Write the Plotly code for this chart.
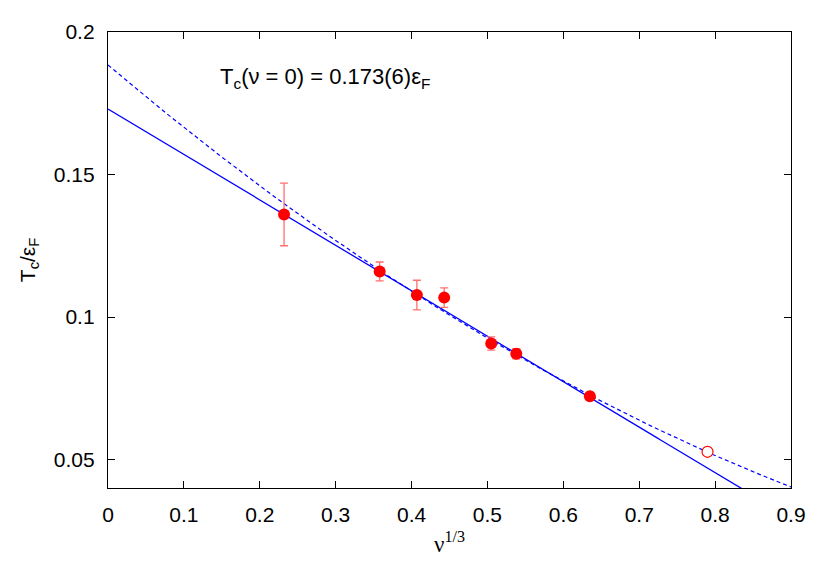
import numpy as np
import plotly.graph_objects as go

# measured points
nu13 = [0.232, 0.358, 0.407, 0.443, 0.505, 0.538, 0.635]
tc = [0.136, 0.116, 0.1077, 0.1068, 0.0907, 0.0871, 0.0722]
tc_err = [0.011, 0.0033, 0.0052, 0.0034, 0.0023, 0.0018, 0.001]

# open point (excluded from linear fit)
nu13_open = [0.79]
tc_open = [0.0527]

# fit coefficients
lin_fit = [0.173, -0.1595]
quad_fit = [0.1884, -0.2255, 0.0678]

xs = np.linspace(0, 0.9, 200)
y_lin = lin_fit[0] + lin_fit[1] * xs
y_quad = quad_fit[0] + quad_fit[1] * xs + quad_fit[2] * xs**2

SANS = "Liberation Sans"
fig = go.Figure()
fig.add_trace(go.Scatter(x=xs, y=y_quad, mode="lines",
                         line=dict(color="#0000ff", width=1.2, dash="4px,3px")))
fig.add_trace(go.Scatter(x=xs, y=y_lin, mode="lines",
                         line=dict(color="#0000ff", width=1.3)))
fig.add_trace(go.Scatter(
    x=nu13, y=tc, mode="markers",
    marker=dict(color="#ff0000", size=12),
    error_y=dict(type="data", array=tc_err, color="#ff7070", thickness=1.3, width=4),
))
fig.add_trace(go.Scatter(
    x=nu13_open, y=tc_open, mode="markers",
    marker=dict(color="white", size=11, line=dict(color="#ff0000", width=1.2)),
))

fig.add_annotation(
    x=0.145, y=0.1837, xref="x", yref="y", showarrow=False, xanchor="left",
    text="T<sub>c</sub>(ν = 0) = 0.173(6)ε<sub>F</sub>",
    font=dict(family=SANS, size=22, color="black"),
)

axis_common = dict(
    showgrid=False, zeroline=False, showline=True, linecolor="black", linewidth=1.3,
    mirror="allticks", ticks="inside", ticklen=7, tickcolor="black", tickwidth=1,
    tickfont=dict(family=SANS, size=21, color="black"),
)
fig.update_xaxes(range=[0, 0.9], dtick=0.1, tickformat="~g", ticklabelstandoff=8,
                 title=dict(text="ν<sup>1/3</sup>",
                            font=dict(family="Liberation Serif", size=23, color="black"),
                            standoff=10),
                 **axis_common)
fig.update_yaxes(range=[0.04, 0.2], tickvals=[0.05, 0.1, 0.15, 0.2],
                 ticktext=["0.05", "0.1", "0.15", "0.2"], ticklabelstandoff=8,
                 title=dict(text="T<sub>c</sub>/ε<sub>F</sub>",
                            font=dict(family=SANS, size=21, color="black"),
                            standoff=12),
                 **axis_common)

fig.update_layout(
    width=830, height=581,
    margin=dict(l=100, r=47, t=20, b=101),
    plot_bgcolor="white", paper_bgcolor="white",
    showlegend=False,
)

fig.write_html("out.html")
